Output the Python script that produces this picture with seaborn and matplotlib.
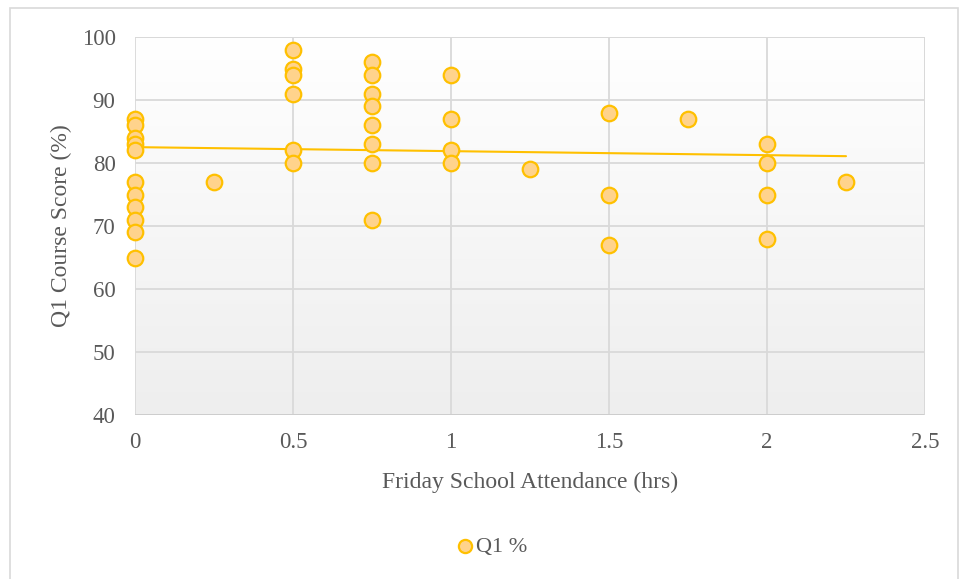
import numpy as np
import pandas as pd
import matplotlib
matplotlib.use("Agg")
import matplotlib.pyplot as plt
import seaborn as sns
from matplotlib.patches import Rectangle

# Friday school attendance (hours) and Q1 course score (%) per student
attendance = [0, 0, 0, 0, 0, 0, 0, 0, 0, 0, 0,
              0.25,
              0.5, 0.5, 0.5, 0.5, 0.5, 0.5,
              0.75, 0.75, 0.75, 0.75, 0.75, 0.75, 0.75, 0.75,
              1, 1, 1, 1,
              1.25,
              1.5, 1.5, 1.5,
              1.75,
              2, 2, 2, 2,
              2.25]
scores = [87, 86, 84, 83, 82, 77, 75, 73, 71, 69, 65,
          77,
          98, 95, 94, 91, 82, 80,
          96, 94, 91, 89, 86, 83, 80, 71,
          94, 87, 82, 80,
          79,
          88, 75, 67,
          87,
          83, 80, 75, 68,
          77]

x_ticks = [0, 0.5, 1, 1.5, 2, 2.5]
x_tick_labels = ["0", "0.5", "1", "1.5", "2", "2.5"]
y_ticks = [40, 50, 60, 70, 80, 90, 100]

df = pd.DataFrame({"hrs": attendance, "score": scores})

sns.set_theme(style="white")
plt.rcParams["font.family"] = ["Liberation Serif", "DejaVu Serif"]

fig = plt.figure(figsize=(9.61, 5.79), dpi=100)
ax = fig.add_axes([135 / 961, 1 - 415 / 579, 790 / 961, 378 / 579])

# soft vertical gradient in the plot area (light grey at bottom to white at top)
grad = np.linspace(0, 1, 256).reshape(-1, 1)
ax.imshow(grad, cmap=matplotlib.colors.LinearSegmentedColormap.from_list(
    "bg", ["#eeeeee", "#ffffff"]), origin="lower", aspect="auto",
    extent=[0, 2.5, 40, 100], zorder=0, interpolation="bicubic")

ax.set_xlim(0, 2.5)
ax.set_ylim(40, 100)
ax.set_xticks(x_ticks)
ax.set_xticklabels(x_tick_labels)
ax.set_yticks(y_ticks)
ax.grid(True, color="#d9d9d9", linewidth=1.3, zorder=1)
ax.set_axisbelow(True)
for s in ax.spines.values():
    s.set_visible(False)
ax.axhline(40, color="#cccccc", linewidth=1.3, zorder=1)
ax.axhline(100, color="#d9d9d9", linewidth=1.3, zorder=1)
ax.axvline(2.5, color="#d9d9d9", linewidth=1.3, zorder=1)

sns.regplot(data=df, x="hrs", y="score", ax=ax, scatter=False, ci=None,
            line_kws=dict(color="#ffc000", linewidth=1.5, zorder=2))

sns.scatterplot(data=df, x="hrs", y="score", ax=ax, s=125, color="#ffd38c",
                edgecolor="#ffc000", linewidth=1.6, zorder=3, label="Q1 %",
                clip_on=False)

ax.tick_params(axis="y", length=0, labelsize=16.5, labelcolor="#595959", pad=14)
ax.tick_params(axis="x", length=0, labelsize=16.5, labelcolor="#595959", pad=12)
ax.set_xlabel("Friday School Attendance (hrs)", fontsize=17, color="#595959",
              labelpad=14)
ax.set_ylabel("Q1 Course Score (%)", fontsize=17, color="#595959", labelpad=7)

leg = ax.legend(loc="center", bbox_to_anchor=(491 / 961, 1 - 547 / 579),
                bbox_transform=fig.transFigure, frameon=False, fontsize=16,
                handletextpad=0.05, handlelength=0.9, borderaxespad=0,
                markerscale=0.85)
for t in leg.get_texts():
    t.set_color("#595959")

fig.patches.append(Rectangle((10 / 961, -0.01), 948 / 961, 1 - 8 / 579 + 0.01,
                             transform=fig.transFigure, fill=False,
                             edgecolor="#d9d9d9", linewidth=1.2))

fig.savefig("out.png", dpi=100, facecolor="white")
